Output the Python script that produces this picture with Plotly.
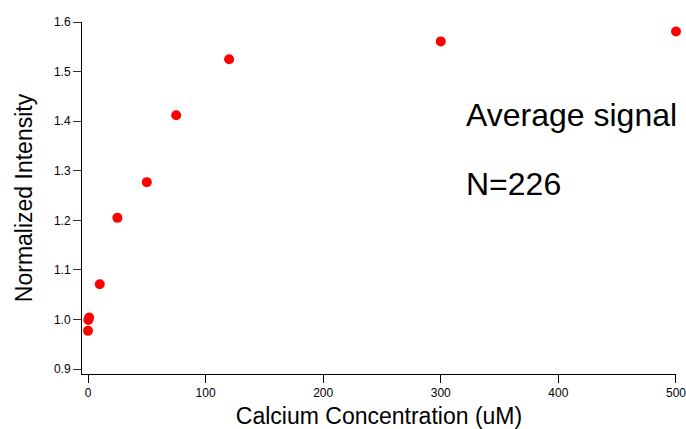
import plotly.graph_objects as go

conc = [0, 0.3, 1, 10, 25, 50, 75, 120, 300, 500]
intensity = [0.977, 0.999, 1.004, 1.071, 1.205, 1.277, 1.412, 1.525, 1.561, 1.581]
x_ticks = [0, 100, 200, 300, 400, 500]
y_ticks = [0.9, 1.0, 1.1, 1.2, 1.3, 1.4, 1.5, 1.6]

fig = go.Figure(go.Scatter(
    x=conc, y=intensity, mode="markers", cliponaxis=False,
    marker=dict(color="#ff0000", size=10),
))

font = "Liberation Sans, Arial, sans-serif"
fig.update_layout(
    width=686, height=429,
    margin=dict(l=82, r=10, t=22, b=55),
    plot_bgcolor="white", paper_bgcolor="white",
    showlegend=False,
    font=dict(family=font, color="black"),
    xaxis=dict(
        range=[-5.1, 500.01], tickvals=x_ticks, ticktext=[str(v) for v in x_ticks],
        showgrid=False, zeroline=False, showline=True, linecolor="black", linewidth=1,
        ticks="outside", ticklen=8, tickcolor="black", automargin=False,
        ticklabeloverflow="allow",
        tickfont=dict(size=12, family=font),
        title=dict(text="Calcium Concentration (uM)", font=dict(size=23, family=font), standoff=10),
    ),
    yaxis=dict(
        range=[0.89, 1.6001], tickvals=y_ticks, ticktext=[f"{v:.1f}" for v in y_ticks],
        showgrid=False, zeroline=False, showline=True, linecolor="black", linewidth=1,
        ticks="outside", ticklen=8, tickcolor="#333", automargin=False,
        ticklabeloverflow="allow",
        tickfont=dict(size=12, family=font),
        title=dict(text="Normalized Intensity", font=dict(size=23, family=font), standoff=14),
    ),
)
pw, ph = 686 - 82 - 10, 429 - 22 - 55
for text, (px, py) in [("Average signal", (464, 115)), ("N=226", (464, 184))]:
    fig.add_annotation(
        text=text, x=(px - 82) / pw, y=1 - (py - 22) / ph, xref="paper", yref="paper",
        xanchor="left", yanchor="middle", showarrow=False,
        font=dict(size=32, family=font),
    )
fig.write_html("out.html")
